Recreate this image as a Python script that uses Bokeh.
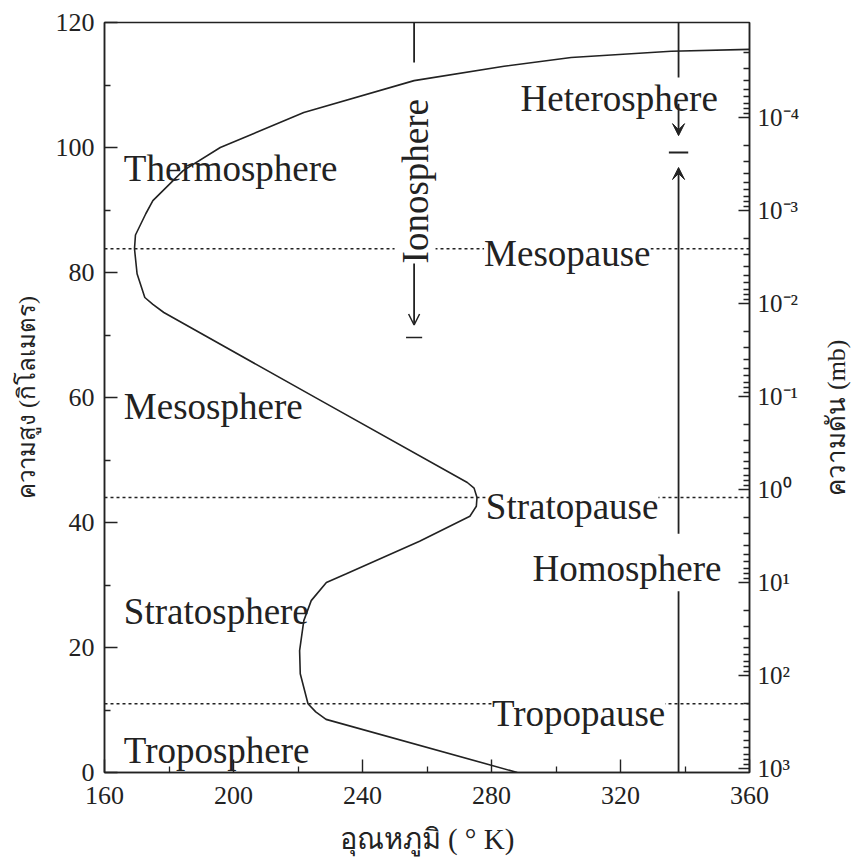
import math
from bokeh.plotting import figure
from bokeh.layouts import row
from bokeh.models import (Range1d, LogScale, LogAxis, FixedTicker, CustomJSTickFormatter,
                          Label, Arrow, VeeHead, OpenHead)
from bokeh.core.properties import value
from bokeh.embed import file_html
from bokeh.resources import INLINE

# ---------------- data ----------------
# temperature profile of the atmosphere (K) vs altitude (km)
temp_K = [288, 228.7, 225.5, 223.1, 220.7, 220.5, 221.8, 224.1, 228.8, 235.0,
          257.7, 273.3, 275.3, 275.5, 274.6, 272.5, 227.1, 178.4, 175.0, 172.5,
          170.1, 169.3, 169.6, 172.8, 175.0, 184.4, 195.9, 221.8, 256.0, 283.9,
          304.7, 335.7, 360.0]
alt_km = [0, 8.5, 9.7, 11.0, 15.8, 19.5, 24.3, 27.5, 30.4, 31.8,
          37.0, 41.0, 42.6, 44.0, 45.5, 46.4, 59.5, 73.6, 74.9, 76.0,
          79.8, 83.8, 86.0, 89.4, 91.5, 96.3, 100.0, 105.6, 110.7, 113.0,
          114.4, 115.4, 115.7]

# pause levels (km)
pause_names = ["Mesopause", "Stratopause", "Tropopause"]
pause_alt = [83.8, 44.0, 11.0]
pause_label_T = [303.5, 305.0, 307.0]
pause_label_alt = [83.0, 42.6, 9.4]

# layer names (left side)
layer_names = ["Thermosphere", "Mesosphere", "Stratosphere", "Troposphere"]
layer_label_alt = [96.6, 58.6, 25.8, 3.5]
layer_label_T = 166.0

# ionosphere marker
iono_T = 256.0
iono_top = [113.6, 120.0]
iono_arrow = [82.4, 71.6]
iono_bar_alt = 69.6
iono_label = "Ionosphere"
iono_label_T = 256.3
iono_label_alt = 94.6

# heterosphere / homosphere marker
hh_T = 338.0
hetero_top = [111.2, 120.0]
hetero_arrow = [107.0, 101.9]
hh_bar_alt = 99.2
homo_arrow = [38.2, 96.8]
homo_bottom = [0.0, 29.0]
hetero_label, hetero_label_T, hetero_label_alt = "Heterosphere", 319.6, 107.8
homo_label, homo_label_T, homo_label_alt = "Homosphere", 322.0, 32.6

# axes
x_ticks = [160, 200, 240, 280, 320, 360]
x_minor = [180, 220, 260, 300, 340]
y_ticks = [0, 20, 40, 60, 80, 100, 120]
y_minor = [10, 30, 50, 70, 90, 110]
p_ticks = [1e-4, 1e-3, 1e-2, 1e-1, 1e0, 1e1, 1e2, 1e3]
p_labels = ["10⁻⁴", "10⁻³", "10⁻²", "10⁻¹", "10⁰", "10¹", "10²", "10³"]
p_minor = [k * 10.0 ** e for e in range(-5, 4) for k in range(2, 10)]

x_title = "อุณหภูมิ ( ° K)"
y_title = "ความสูง (กิโลเมตร)"
p_title = "ความดัน (mb)"
p_title_alt = 56.8

# ---------------- style ----------------
INK = "#222222"
SERIF = "Liberation Serif"

yr = Range1d(0, 120)
p = figure(frame_width=645, frame_height=750,
           x_range=Range1d(160, 360), y_range=yr,
           output_backend="svg", toolbar_location=None,
           min_border_left=104, min_border_right=70,
           min_border_top=22, min_border_bottom=80)
p.background_fill_color = "white"
p.border_fill_color = "white"
p.outline_line_color = INK
p.outline_line_width = 1.5
p.xgrid.visible = False
p.ygrid.visible = False

p.extra_y_ranges = {"p": Range1d(start=10 ** 3.043, end=10 ** -5.022)}
p.extra_y_scales = {"p": LogScale()}

fmt = CustomJSTickFormatter(args=dict(pt=p_ticks, pl=p_labels), code="""
    let best = 0, bd = 1e9;
    for (let i = 0; i < pt.length; i++) {
        const d = Math.abs(Math.log10(tick) - Math.log10(pt[i]));
        if (d < bd) { bd = d; best = i; }
    }
    return pl[best];
""")
raxis = LogAxis(y_range_name="p", ticker=FixedTicker(ticks=p_ticks, minor_ticks=p_minor),
                formatter=fmt)
p.add_layout(raxis, "right")

xax = p.below[0]
yax = p.left[0]
xax.ticker = FixedTicker(ticks=x_ticks, minor_ticks=x_minor)
yax.ticker = FixedTicker(ticks=y_ticks, minor_ticks=y_minor)
xax.axis_label = x_title
yax.axis_label = y_title

for ax in [xax, yax, raxis]:
    ax.axis_line_color = INK
    ax.axis_line_width = 1.5
    ax.major_tick_line_color = INK
    ax.minor_tick_line_color = INK
    ax.major_tick_line_width = 1.4
    ax.minor_tick_line_width = 1.3
    ax.major_tick_in = 13
    ax.major_tick_out = 0
    ax.minor_tick_in = 6
    ax.minor_tick_out = 0
    ax.major_label_text_font = SERIF
    ax.major_label_text_font_size = "26px"
    ax.major_label_text_color = INK
    ax.axis_label_text_font = SERIF
    ax.axis_label_text_font_style = "normal"
    ax.axis_label_text_color = INK
xax.axis_label_text_font_size = "29px"
yax.axis_label_text_font_size = "24px"
raxis.major_tick_in = 11
raxis.minor_tick_in = 6
raxis.major_label_standoff = 8
raxis.major_label_text_font_size = "25px"
xax.major_label_standoff = 14
yax.major_label_standoff = 10
xax.axis_label_standoff = 16
yax.axis_label_standoff = 13

# pause lines (dotted)
for alt in pause_alt:
    p.line([160, 360], [alt, alt], line_color=INK, line_width=1.6, line_dash="3 3")

# temperature profile
p.line(temp_K, alt_km, line_color=INK, line_width=1.6)

# vertical marker lines
p.line([iono_T, iono_T], iono_top, line_color=INK, line_width=1.8)
p.line([hh_T, hh_T], hetero_top, line_color=INK, line_width=1.8)
p.line([hh_T, hh_T], homo_bottom, line_color=INK, line_width=1.8)
p.line([iono_T - 2.5, iono_T + 2.5], [iono_bar_alt, iono_bar_alt], line_color=INK, line_width=1.5)
p.line([hh_T - 3, hh_T + 3], [hh_bar_alt, hh_bar_alt], line_color=INK, line_width=1.8)

p.add_layout(Arrow(x_start=iono_T, y_start=iono_arrow[0], x_end=iono_T, y_end=iono_arrow[1],
                   line_color=INK, line_width=1.8,
                   end=OpenHead(size=11, line_color=INK, line_width=1.5)))
p.add_layout(Arrow(x_start=hh_T, y_start=hetero_arrow[0], x_end=hh_T, y_end=hetero_arrow[1],
                   line_color=INK, line_width=1.8,
                   end=VeeHead(size=12, line_color=INK, fill_color=INK, line_width=1)))
p.add_layout(Arrow(x_start=hh_T, y_start=homo_arrow[0], x_end=hh_T, y_end=homo_arrow[1],
                   line_color=INK, line_width=1.8,
                   end=VeeHead(size=12, line_color=INK, fill_color=INK, line_width=1)))

# labels
def lab(text, x, y, align="left", angle=0.0, bg=None, size="37px", baseline="alphabetic"):
    kw = dict(x=x, y=y, text=text, text_font=SERIF, text_font_size=size,
              text_color=INK, text_align=align, text_baseline=baseline, angle=angle)
    if bg:
        kw["background_fill_color"] = bg
    p.add_layout(Label(**kw))

for name, a in zip(layer_names, layer_label_alt):
    lab(name, layer_label_T, a)
for name, t, a in zip(pause_names, pause_label_T, pause_label_alt):
    lab(name, t, a, align="center", bg="white")
lab(hetero_label, hetero_label_T, hetero_label_alt, align="center")
lab(homo_label, homo_label_T, homo_label_alt, align="center", bg="white")
lab(iono_label, iono_label_T, iono_label_alt, align="center", angle=math.pi / 2, bg="white")

# right-hand (pressure) axis title, reading bottom to top, in a narrow strip
q = figure(frame_width=33, frame_height=750, x_range=Range1d(0, 1), y_range=yr,
           output_backend="svg", toolbar_location=None,
           min_border_left=0, min_border_right=0,
           min_border_top=22, min_border_bottom=80)
q.axis.visible = False
q.grid.visible = False
q.outline_line_color = None
q.background_fill_color = "white"
q.border_fill_color = "white"
q.text(x=[0.5], y=[p_title_alt], text=[p_title], angle=math.pi / 2,
       text_font=value(SERIF), text_font_size="26px", text_color=INK,
       text_align="center", text_baseline="middle")

layout = row(p, q, spacing=0)
open("out.html", "w").write(file_html(layout, INLINE))
